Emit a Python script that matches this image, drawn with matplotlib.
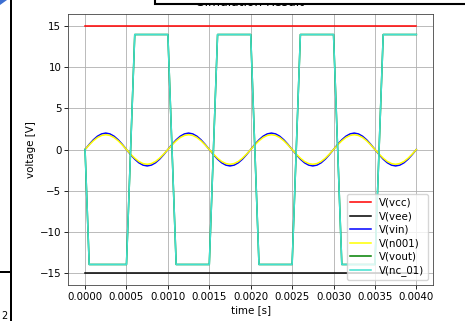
import matplotlib
matplotlib.use('Agg')
import matplotlib.pyplot as plt
from matplotlib.patches import Rectangle, Polygon

# sampled sine nodes (every 0.00005 s)
t_sin = [i * 0.00005 for i in range(81)]
vin = [0, 0.62, 1.18, 1.62, 1.90, 2.0, 1.90, 1.62, 1.18, 0.62,
       0, -0.62, -1.18, -1.62, -1.90, -2.0, -1.90, -1.62, -1.18, -0.62,
       0, 0.62, 1.18, 1.62, 1.90, 2.0, 1.90, 1.62, 1.18, 0.62,
       0, -0.62, -1.18, -1.62, -1.90, -2.0, -1.90, -1.62, -1.18, -0.62,
       0, 0.62, 1.18, 1.62, 1.90, 2.0, 1.90, 1.62, 1.18, 0.62,
       0, -0.62, -1.18, -1.62, -1.90, -2.0, -1.90, -1.62, -1.18, -0.62,
       0, 0.62, 1.18, 1.62, 1.90, 2.0, 1.90, 1.62, 1.18, 0.62,
       0, -0.62, -1.18, -1.62, -1.90, -2.0, -1.90, -1.62, -1.18, -0.62,
       0]
n001 = [0, 0.56, 1.06, 1.46, 1.71, 1.8, 1.71, 1.46, 1.06, 0.56,
        0, -0.56, -1.06, -1.46, -1.71, -1.8, -1.71, -1.46, -1.06, -0.56,
        0, 0.56, 1.06, 1.46, 1.71, 1.8, 1.71, 1.46, 1.06, 0.56,
        0, -0.56, -1.06, -1.46, -1.71, -1.8, -1.71, -1.46, -1.06, -0.56,
        0, 0.56, 1.06, 1.46, 1.71, 1.8, 1.71, 1.46, 1.06, 0.56,
        0, -0.56, -1.06, -1.46, -1.71, -1.8, -1.71, -1.46, -1.06, -0.56,
        0, 0.56, 1.06, 1.46, 1.71, 1.8, 1.71, 1.46, 1.06, 0.56,
        0, -0.56, -1.06, -1.46, -1.71, -1.8, -1.71, -1.46, -1.06, -0.56,
        0]

# supply rails
t_rail = [0.0, 0.004]
vcc = [15, 15]
vee = [-15, -15]

# comparator output breakpoints
t_out = [0.0, 0.00005, 0.0005, 0.0006, 0.0010, 0.0011, 0.0015, 0.0016,
         0.0020, 0.0021, 0.0025, 0.0026, 0.0030, 0.0031, 0.0035, 0.0036, 0.0040]
vout = [0, -14, -14, 14, 14, -14, -14, 14, 14, -14, -14, 14, 14, -14, -14, 14, 14]
nc_01 = [0, -14, -14, 14, 14, -14, -14, 14, 14, -14, -14, 14, 14, -14, -14, 14, 14]

plt.rcParams['font.size'] = 7.35

fig = plt.figure(figsize=(4.65, 3.21), dpi=100)
ax = fig.add_axes([0.1473, 0.1121, 0.7837, 0.8443])

lw = 1.1
ax.plot(t_rail, vcc, color='red', lw=lw, label='V(vcc)')
ax.plot(t_rail, vee, color='black', lw=lw, label='V(vee)')
ax.plot(t_sin, vin, color='blue', lw=lw, label='V(vin)')
ax.plot(t_sin, n001, color='yellow', lw=lw, label='V(n001)')
ax.plot(t_out, vout, color='green', lw=lw, label='V(vout)')
ax.plot(t_out, nc_01, color='turquoise', lw=lw, label='V(nc_01)')

ax.set_xticks([0.0, 0.0005, 0.001, 0.0015, 0.002, 0.0025, 0.003, 0.0035, 0.004])
ax.set_xticklabels(['0.0000', '0.0005', '0.0010', '0.0015', '0.0020',
                    '0.0025', '0.0030', '0.0035', '0.0040'])
ax.set_yticks([-15, -10, -5, 0, 5, 10, 15])
ax.grid(True, lw=0.6)
ax.tick_params(width=0.6, length=2.6, pad=2.5)
for s in ax.spines.values():
    s.set_linewidth(0.6)
    s.set_color('#444444')
ax.set_xlabel('time [s]', labelpad=2)
ax.set_ylabel('voltage [V]', labelpad=3)
ax.set_title('Simulation Result', fontsize=8.8, pad=5.5)
ax.legend(loc='lower right', fontsize=7.35, handlelength=2.0,
          labelspacing=0.35, borderpad=0.35)

# screenshot surroundings
W, H = 465.0, 321.0
fig.patches.append(Rectangle((155 / W, 1 - 3.8 / H), 1, 3.8 / H + 0.01,
                             transform=fig.transFigure, facecolor='white',
                             edgecolor='black', lw=1.5, zorder=10))
fig.patches.append(Rectangle((9.5 / W, 0), 2 / W, 1, transform=fig.transFigure,
                             facecolor='black', edgecolor='none', zorder=10))
fig.patches.append(Rectangle((0, 1 - 272.5 / H), 10 / W, 1.2 / H,
                             transform=fig.transFigure, facecolor='black',
                             edgecolor='none', zorder=10))
fig.patches.append(Polygon([(0, 1), (7 / W, 1), (0, 1 - 5 / H)], closed=True,
                           transform=fig.transFigure, facecolor='#3d6fd1',
                           edgecolor='none', zorder=10))
fig.text(1 / W, 2 / H, '2', fontsize=7, color='black')

fig.savefig('out.png', dpi=100)
